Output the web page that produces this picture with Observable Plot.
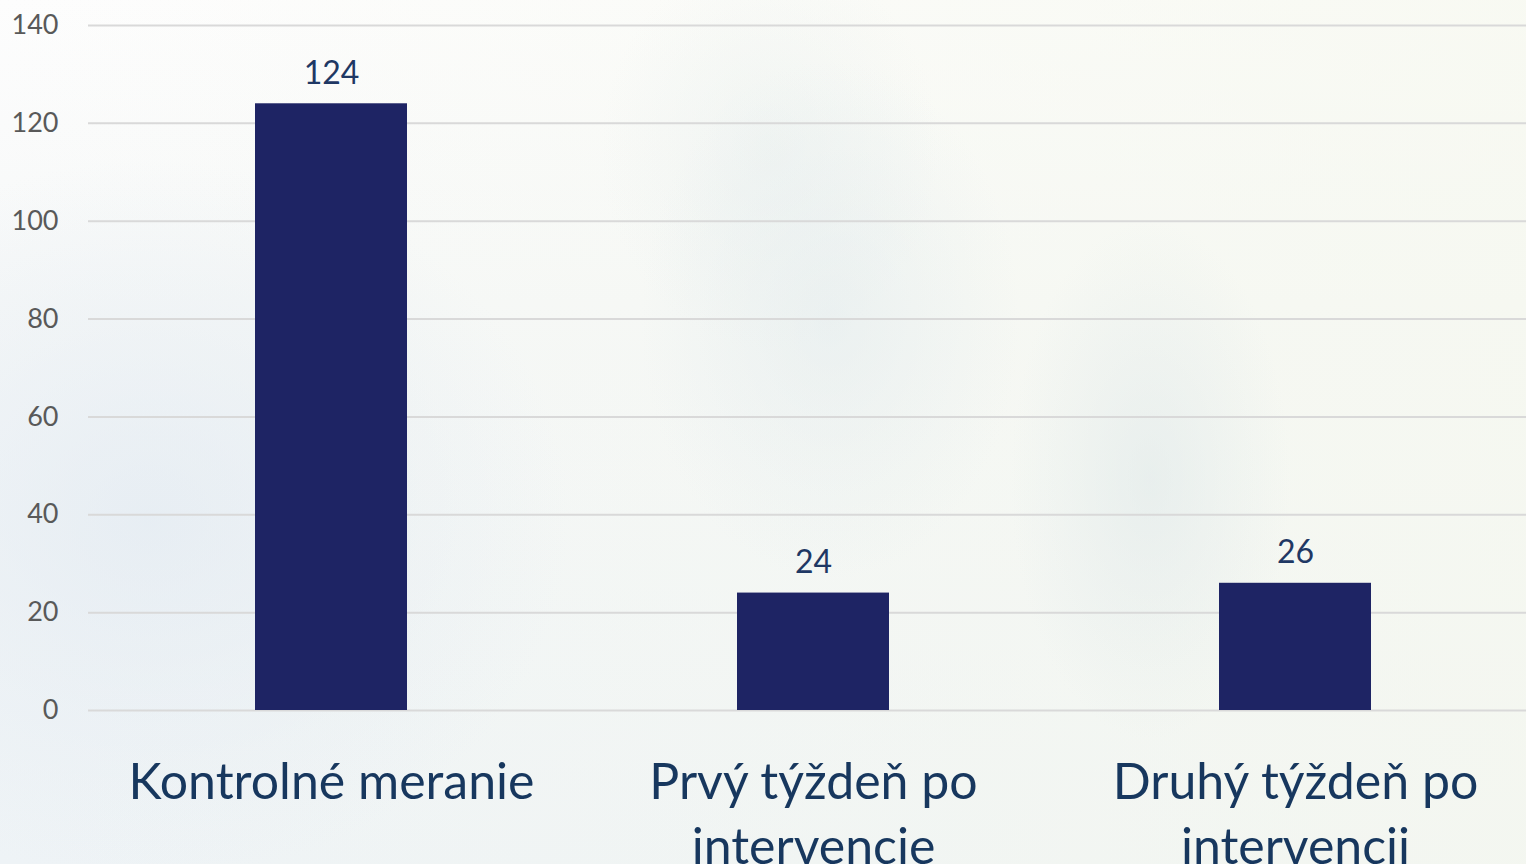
<!DOCTYPE html>
<html>
<head>
<meta charset="utf-8">
<script src="https://cdn.jsdelivr.net/npm/d3@7"></script>
<script src="https://cdn.jsdelivr.net/npm/@observablehq/plot@0.6"></script>
<style>
  html, body { margin: 0; padding: 0; width: 1526px; height: 864px; overflow: hidden; }
  body {
    background:
      radial-gradient(ellipse 190px 260px at 830px 320px, rgba(222,232,236,0.45), rgba(222,232,236,0) 100%),
      radial-gradient(ellipse 140px 260px at 1150px 480px, rgba(220,230,232,0.5), rgba(220,230,232,0) 100%),
      radial-gradient(ellipse 170px 200px at 770px 150px, rgba(228,236,236,0.4), rgba(228,236,236,0) 100%),
      radial-gradient(ellipse 420px 360px at 150px 520px, rgba(226,234,242,0.7), rgba(226,234,242,0) 100%),
      linear-gradient(90deg, rgba(255,255,255,0) 0%, rgba(246,248,238,0.7) 100%),
      linear-gradient(180deg, #fdfdfd 0%, #f6f8f8 35%, #eef3f6 100%);
  }
  #chart svg { display: block; }
</style>
</head>
<body>
<div id="chart"></div>
<script>
const categories = ["Kontrolné meranie", "Prvý týždeň po intervencie", "Druhý týždeň po intervencii"];
const values = [124, 24, 26];
const tickLabels = ["Kontrolné meranie", "Prvý týždeň po\nintervencie", "Druhý týždeň po\nintervencii"];
const yTicks = [0, 20, 40, 60, 80, 100, 120, 140];

const data = categories.map((c, i) => ({category: c, value: values[i]}));
const labelOf = new Map(categories.map((c, i) => [c, tickLabels[i]]));

const chart = Plot.plot({
  width: 1526,
  height: 864,
  marginTop: 25,
  marginBottom: 154,
  marginLeft: 88,
  marginRight: 0,
  style: {background: "transparent", fontFamily: "Lato, 'Open Sans', sans-serif", overflow: "visible"},
  x: {domain: categories, range: [89, 1536.5], paddingInner: 0.685, paddingOuter: 0.3425, axis: null},
  y: {domain: [0, 140], axis: null},
  marks: [
    Plot.ruleY(yTicks, {stroke: "#d9d9d9", strokeWidth: 2}),
    Plot.axisY(yTicks, {
      tickSize: 0, tickPadding: 30, fontSize: 27, fill: "#595959", tickFormat: d => d, label: null
    }),
    Plot.barY(data, {x: "category", y: "value", fill: "#1e2464"}),
    Plot.text(data, {
      x: "category", y: "value", text: d => d.value, dy: -20, lineAnchor: "bottom",
      fontSize: 32, fill: "#1f3864"
    }),
    Plot.axisX(categories, {
      tickSize: 0, tickPadding: 42, fontSize: 50, fill: "#17375e",
      lineHeight: 1.3, tickFormat: d => labelOf.get(d), label: null
    })
  ]
});
document.getElementById("chart").appendChild(chart);
</script>
</body>
</html>
